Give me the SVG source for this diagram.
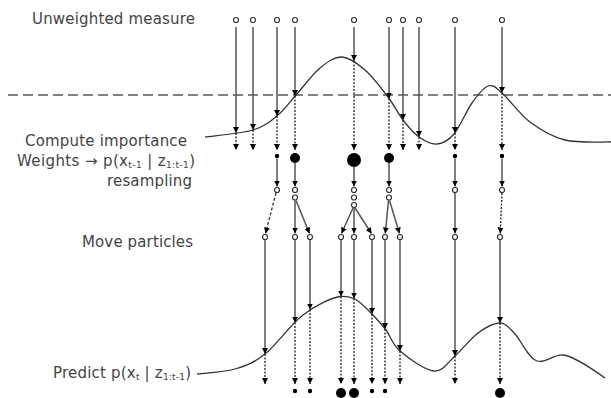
<svg xmlns="http://www.w3.org/2000/svg" width="611" height="398" viewBox="0 0 611 398">
<style>
.lbl{font-family:"DejaVu Sans","Liberation Sans",sans-serif;font-size:15px;fill:#444}
.sub{font-size:9px}
.pc{fill:#fff;stroke:#333;stroke-width:1.2}
.wd{fill:#000}
.sl{stroke:#555;stroke-width:1.5;fill:none;marker-end:url(#ah)}
.dl{stroke:#222;stroke-width:1.3;stroke-dasharray:2 1.5;fill:none;marker-end:url(#ah)}
.dd{stroke:#333;stroke-width:1.3;stroke-dasharray:3 2;fill:none;marker-end:url(#ah)}
.curve{fill:none;stroke:#333;stroke-width:1.3}
.hz{stroke:#808080;stroke-width:2;stroke-dasharray:10 5;fill:none}
</style>
<defs>
<marker id="ah" markerUnits="userSpaceOnUse" viewBox="0 0 6 6" markerWidth="6" markerHeight="6" refX="6" refY="3" orient="auto">
<path d="M0,0 L6,3 L0,6 z" fill="#000"/>
</marker>
</defs>
<rect width="611" height="398" fill="#fff"/>

<g id="labels">
<text class="lbl" x="32" y="24" textLength="163" lengthAdjust="spacing">Unweighted measure</text>
<text class="lbl" x="25" y="146" textLength="162" lengthAdjust="spacing">Compute importance</text>
<text class="lbl" x="17" y="166" textLength="178" lengthAdjust="spacing">Weights → p(x<tspan class="sub" dy="1.5">t-1</tspan><tspan dy="-1.5"> | z</tspan><tspan class="sub" dy="1.5">1:t-1</tspan><tspan dy="-1.5">)</tspan></text>
<text class="lbl" x="107" y="186" textLength="85" lengthAdjust="spacing">resampling</text>
<text class="lbl" x="82" y="247" textLength="111" lengthAdjust="spacing">Move particles</text>
<text class="lbl" x="53" y="378" textLength="138" lengthAdjust="spacing">Predict p(x<tspan class="sub" dy="1.5">t</tspan><tspan dy="-1.5"> | z</tspan><tspan class="sub" dy="1.5">1:t-1</tspan><tspan dy="-1.5">)</tspan></text>
</g>

<g id="curves">
<line class="hz" x1="8" y1="95" x2="611" y2="95"/>
<path class="curve" d="M205,137 C213,135.8 240.8,133.7 253,130 C265.2,126.3 270.8,120.8 278,115 C285.2,109.2 289,102.8 296,95 C303,87.2 312.3,74.3 320,68 C327.7,61.7 334.5,56.7 342,57 C349.5,57.3 357.3,63.3 365,70 C372.7,76.7 381.7,88.7 388,97 C394.3,105.3 397.8,113.3 403,120 C408.2,126.7 413.3,133 419,137 C424.7,141 431.2,144.5 437,144 C442.8,143.5 448.2,140.8 454,134 C459.8,127.2 466.3,111 472,103 C477.7,95 483,87.7 488,86 C493,84.3 495,87 502,93 C509,99 519.5,114.2 530,122 C540.5,129.8 551.5,136.7 565,140 C578.5,143.3 603.3,141.7 611,142"/>
<path class="curve" d="M197,374 C203.3,373.2 223.7,372.3 235,369 C246.3,365.7 253.7,363 265,354 C276.3,345 290.5,324.5 303,315 C315.5,305.5 332,297 341,296.5 C348,296 351,297 355,299 C360.3,301.8 366.8,308.8 372,314 C377.2,319.2 381.3,323.8 386,330 C390.7,336.2 392,344.2 400,351 C408,357.8 424.8,370.2 434,371 C443.2,371.8 447.7,362.3 455,356 C462.3,349.7 470.5,338.5 478,333 C485.5,327.5 493.8,322.8 500,323 C506.2,323.2 508.8,327.5 515,334 C521.2,340.5 528,358 537,361 C546,364 553,354 563,355 C574,356 598,373 605,378"/>
</g>

<g id="connectors">
<line class="sl" x1="236" y1="27" x2="236" y2="133"/>
<line class="sl" x1="253" y1="27" x2="253" y2="130"/>
<line class="sl" x1="277" y1="27" x2="277" y2="116"/>
<line class="sl" x1="295" y1="27" x2="295" y2="96"/>
<line class="sl" x1="354" y1="27" x2="354" y2="61"/>
<line class="sl" x1="389" y1="27" x2="389" y2="98.5"/>
<line class="sl" x1="403" y1="27" x2="403" y2="120"/>
<line class="sl" x1="419" y1="27" x2="419" y2="137"/>
<line class="sl" x1="455" y1="27" x2="455" y2="133"/>
<line class="sl" x1="502" y1="27" x2="502" y2="93"/>
<line class="dl" x1="236" y1="133" x2="236" y2="150"/>
<line class="dl" x1="253" y1="130" x2="253" y2="150"/>
<line class="dl" x1="277" y1="116" x2="277" y2="150"/>
<line class="dl" x1="295" y1="96" x2="295" y2="150"/>
<line class="dl" x1="354" y1="61" x2="354" y2="150"/>
<line class="dl" x1="389" y1="98.5" x2="389" y2="150"/>
<line class="dl" x1="403" y1="120" x2="403" y2="150"/>
<line class="dl" x1="419" y1="137" x2="419" y2="150"/>
<line class="dl" x1="455" y1="133" x2="455" y2="150"/>
<line class="dl" x1="502" y1="93" x2="502" y2="150"/>
<line class="sl" x1="277" y1="158.5" x2="277" y2="186.5"/>
<line class="sl" x1="295" y1="163" x2="295" y2="186.5"/>
<line class="sl" x1="354" y1="167" x2="354" y2="186.5"/>
<line class="sl" x1="389" y1="163" x2="389" y2="186.5"/>
<line class="sl" x1="455" y1="158.5" x2="455" y2="186.5"/>
<line class="sl" x1="502" y1="158.5" x2="502" y2="186.5"/>
<line class="dd" x1="276" y1="193" x2="265.5" y2="233.5"/>
<line class="sl" x1="295" y1="200.5" x2="295" y2="233.5"/>
<line class="sl" x1="296" y1="200.5" x2="309.5" y2="233.5"/>
<line class="sl" x1="353" y1="208" x2="341.5" y2="233.5"/>
<line class="sl" x1="354" y1="208" x2="354" y2="233.5"/>
<line class="sl" x1="355" y1="208" x2="371.5" y2="233.5"/>
<line class="sl" x1="388.5" y1="200.5" x2="385.3" y2="233.5"/>
<line class="sl" x1="389.5" y1="200.5" x2="399.5" y2="233.5"/>
<line class="sl" x1="455" y1="193" x2="455" y2="233.5"/>
<line class="dl" x1="502" y1="193" x2="500.2" y2="233.5"/>
<line class="sl" x1="265" y1="240" x2="265" y2="354"/>
<line class="sl" x1="295" y1="240" x2="295" y2="322.5"/>
<line class="sl" x1="310" y1="240" x2="310" y2="309.5"/>
<line class="sl" x1="341" y1="240" x2="341" y2="296.5"/>
<line class="sl" x1="354" y1="240" x2="354" y2="298.5"/>
<line class="sl" x1="372" y1="240" x2="372" y2="314"/>
<line class="sl" x1="385" y1="240" x2="385" y2="329"/>
<line class="sl" x1="400" y1="240" x2="400" y2="351"/>
<line class="sl" x1="455" y1="240" x2="455" y2="356"/>
<line class="sl" x1="500" y1="240" x2="500" y2="323"/>
<line class="dl" x1="265" y1="354" x2="265" y2="384"/>
<line class="dl" x1="295" y1="322.5" x2="295" y2="384"/>
<line class="dl" x1="310" y1="309.5" x2="310" y2="384"/>
<line class="dl" x1="341" y1="296.5" x2="341" y2="384"/>
<line class="dl" x1="354" y1="298.5" x2="354" y2="384"/>
<line class="dl" x1="372" y1="314" x2="372" y2="384"/>
<line class="dl" x1="385" y1="329" x2="385" y2="384"/>
<line class="dl" x1="400" y1="351" x2="400" y2="384"/>
<line class="dl" x1="455" y1="356" x2="455" y2="384"/>
<line class="dl" x1="500" y1="323" x2="500" y2="384"/>
</g>

<g id="nodes">
<g id="u1"><circle class="pc" cx="236" cy="20" r="2.5"/></g>
<g id="u2"><circle class="pc" cx="253" cy="20" r="2.5"/></g>
<g id="u3"><circle class="pc" cx="277" cy="20" r="2.5"/></g>
<g id="u4"><circle class="pc" cx="295" cy="20" r="2.5"/></g>
<g id="u5"><circle class="pc" cx="354" cy="20" r="2.5"/></g>
<g id="u6"><circle class="pc" cx="389" cy="20" r="2.5"/></g>
<g id="u7"><circle class="pc" cx="403" cy="20" r="2.5"/></g>
<g id="u8"><circle class="pc" cx="419" cy="20" r="2.5"/></g>
<g id="u9"><circle class="pc" cx="455" cy="20" r="2.5"/></g>
<g id="u10"><circle class="pc" cx="502" cy="20" r="2.5"/></g>

<g id="w1"><circle class="wd" cx="277" cy="156" r="2.2"/></g>
<g id="w2"><circle class="wd" cx="295" cy="158" r="5"/></g>
<g id="w3"><circle class="wd" cx="354" cy="160" r="7"/></g>
<g id="w4"><circle class="wd" cx="389" cy="158" r="5"/></g>
<g id="w5"><circle class="wd" cx="455" cy="156" r="2.2"/></g>
<g id="w6"><circle class="wd" cx="502" cy="156" r="2.2"/></g>

<g id="r1"><circle class="pc" cx="277" cy="190" r="2.5"/></g>
<g id="r2"><circle class="pc" cx="295" cy="190" r="2.5"/></g>
<g id="r3"><circle class="pc" cx="295" cy="197.5" r="2.5"/></g>
<g id="r4"><circle class="pc" cx="354" cy="190" r="2.5"/></g>
<g id="r5"><circle class="pc" cx="354" cy="197.5" r="2.5"/></g>
<g id="r6"><circle class="pc" cx="354" cy="205" r="2.5"/></g>
<g id="r7"><circle class="pc" cx="389" cy="190" r="2.5"/></g>
<g id="r8"><circle class="pc" cx="389" cy="197.5" r="2.5"/></g>
<g id="r9"><circle class="pc" cx="455" cy="190" r="2.5"/></g>
<g id="r10"><circle class="pc" cx="502" cy="190" r="2.5"/></g>

<g id="m1"><circle class="pc" cx="265" cy="237" r="2.5"/></g>
<g id="m2"><circle class="pc" cx="295" cy="237" r="2.5"/></g>
<g id="m3"><circle class="pc" cx="310" cy="237" r="2.5"/></g>
<g id="m4"><circle class="pc" cx="341" cy="237" r="2.5"/></g>
<g id="m5"><circle class="pc" cx="354" cy="237" r="2.5"/></g>
<g id="m6"><circle class="pc" cx="372" cy="237" r="2.5"/></g>
<g id="m7"><circle class="pc" cx="385" cy="237" r="2.5"/></g>
<g id="m8"><circle class="pc" cx="400" cy="237" r="2.5"/></g>
<g id="m9"><circle class="pc" cx="455" cy="237" r="2.5"/></g>
<g id="m10"><circle class="pc" cx="500" cy="237" r="2.5"/></g>

<g id="p1"><circle class="wd" cx="295" cy="391" r="2.2"/></g>
<g id="p2"><circle class="wd" cx="310" cy="391" r="2.2"/></g>
<g id="p3"><circle class="wd" cx="341" cy="393" r="5"/></g>
<g id="p4"><circle class="wd" cx="354" cy="393" r="5"/></g>
<g id="p5"><circle class="wd" cx="372" cy="391" r="2.2"/></g>
<g id="p6"><circle class="wd" cx="385" cy="391" r="2.2"/></g>
<g id="p7"><circle class="wd" cx="500" cy="393" r="5"/></g>
</g>
</svg>
